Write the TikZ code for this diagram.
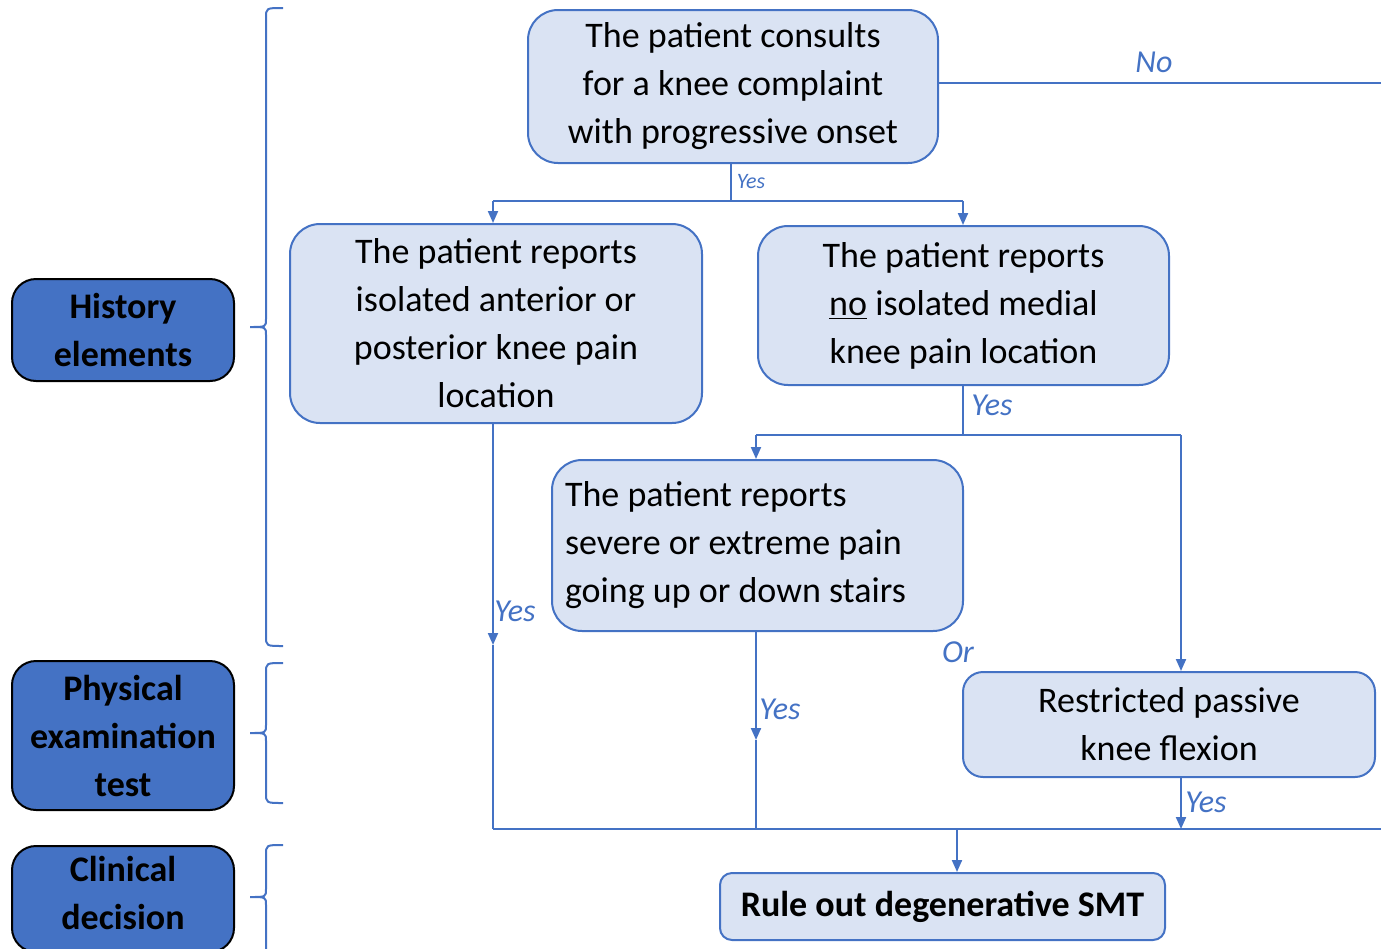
\documentclass[tikz,border=0pt]{standalone}
\usepackage{fontspec}
\setmainfont{Carlito}
\usetikzlibrary{arrows.meta}
\definecolor{linkblue}{HTML}{4472C4}
\definecolor{boxfill}{HTML}{DAE3F3}
\newcommand{\sidebrace}[3]{%
  \draw[bracket] (283,#1) .. controls (266,#1) .. (266,#1+10) -- (266,#3-8)
    .. controls (266,#3) .. (250,#3) .. controls (266,#3) .. (266,#3+8)
    -- (266,#2-10) .. controls (266,#2) .. (283,#2);}

\begin{document}
\begin{tikzpicture}[x=0.5pt, y=-0.5pt,
  >={Triangle[length=6pt,width=5pt]},
  flowbox/.style={draw=linkblue, fill=boxfill, line width=1pt, rounded corners=15pt,
    font=\fontsize{18}{24}\selectfont, align=center, inner sep=0pt},
  catbox/.style={draw=black, fill=linkblue, line width=1pt, rounded corners=12pt,
    font=\fontsize{18}{24}\selectfont\bfseries, align=center, minimum width=111pt, inner sep=0pt},
  link/.style={draw=linkblue, line width=1pt},
  answer/.style={text=linkblue, font=\fontsize{16}{18}\selectfont\itshape, inner sep=0pt},
  bracket/.style={draw=linkblue, line width=1pt}]
\useasboundingbox (0,0) rectangle (1381,948);

% left column
\node[catbox, minimum height=51pt] (history) at (123,330) {History\\ elements};
\node[catbox, minimum height=74.5pt] (physical) at (123,735.5) {Physical\\ examination\\ test};
\node[catbox, minimum height=53pt, text depth=6pt] (clinical) at (123,899) {Clinical\\ decision};
\sidebrace{8}{646}{327}
\sidebrace{663}{803}{733}
\sidebrace{845}{1000}{897}

% flow boxes
\node[flowbox, minimum width=205pt, minimum height=76.5pt] (consult) at (733,86.5)
  {The patient consults\\ for a knee complaint\\ with progressive onset};
\node[flowbox, minimum width=206pt, minimum height=99.5pt] (anterior) at (496,323.5)
  {The patient reports\\ isolated anterior or\\ posterior knee pain\\ location};
\node[flowbox, minimum width=205.5pt, minimum height=79.5pt] (medial) at (963.5,305.5)
  {The patient reports\\ \underline{no} isolated medial\\ knee pain location};
\node[flowbox, minimum width=205.5pt, minimum height=85.5pt, text width=192.5pt,
  align=flush left, inner xsep=6.5pt] (stairs) at (757.5,545.5)
  {The patient reports\\ severe or extreme pain\\ going up or down stairs};
\node[flowbox, minimum width=206pt, minimum height=52.5pt, rounded corners=10pt] (flexion) at (1169,724.5)
  {Restricted passive\\ knee flexion};
\node[flowbox, minimum width=222.5pt, minimum height=33.5pt, rounded corners=6pt,
  font=\fontsize{18}{24}\selectfont\bfseries] (ruleout) at (942.5,906.5)
  {Rule out degenerative SMT};

% junctions
\coordinate (noend) at (1381,83);
\coordinate (s1) at (731,201);
\coordinate (s1l) at (493,201);
\coordinate (s1r) at (963,201);
\coordinate (s2) at (963,435);
\coordinate (s2l) at (756,435);
\coordinate (s2r) at (1181,435);
\coordinate (m1) at (493,645);
\coordinate (m2) at (756,740);
\coordinate (j1) at (493,829);
\coordinate (j2) at (756,829);
\coordinate (j3) at (1181,829);
\coordinate (j4) at (957,829);
\coordinate (jend) at (1381,829);

% connectors
\draw[link] (consult.east |- noend) -- (noend);
\draw[link] (s1 |- consult.south) -- (s1);
\draw[link] (s1l) -- (s1r);
\draw[link, ->] (s1l) -- (s1l |- anterior.north);
\draw[link, ->] (s1r) -- (s1r |- medial.north);
\draw[link] (s2 |- medial.south) -- (s2);
\draw[link] (s2l) -- (s2r);
\draw[link, ->] (s2l) -- (s2l |- stairs.north);
\draw[link, ->] (s2r) -- (s2r |- flexion.north);
\draw[link, ->] (m1 |- anterior.south) -- (m1);
\draw[link] (m1) -- (j1);
\draw[link, ->] (m2 |- stairs.south) -- (m2);
\draw[link] (m2) -- (j2);
\draw[link, ->] (j3 |- flexion.south) -- (j3);
\draw[link] (j1) -- (jend);
\draw[link, ->] (j4) -- (j4 |- ruleout.north);

% answers
\node[answer] (no) at (1154,62) {No};
\node[answer, font=\fontsize{11}{13}\selectfont\itshape] (yes0) at (751,182) {Yes};
\node[answer] (yes1) at (992,405) {Yes};
\node[answer] (yes2) at (515,611) {Yes};
\node[answer] (or) at (958,652) {Or};
\node[answer] (yes3) at (780,709) {Yes};
\node[answer] (yes4) at (1206,802) {Yes};
\end{tikzpicture}
\end{document}
